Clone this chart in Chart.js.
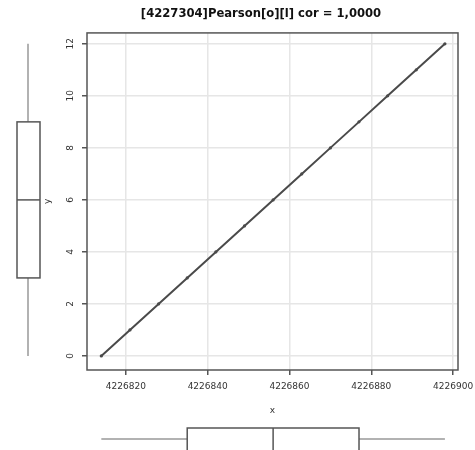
<!DOCTYPE html>
<html>
<head>
<meta charset="utf-8">
<title>Pearson cor</title>
<script src="https://cdn.jsdelivr.net/npm/chart.js@4"></script>
<style>
  html, body { margin: 0; padding: 0; background: #fff; }
  #wrap { width: 475px; height: 450px; }
</style>
</head>
<body>
<div id="wrap"><canvas id="chart" width="475" height="450"></canvas></div>
<script>
/* dispersão x/y com boxplots marginais (estilo lattice) */

const TITULO = "[4227304]Pearson[o][l] cor = 1,0000";

const xVals = [4226814, 4226821, 4226828, 4226835, 4226842, 4226849, 4226856,
               4226863, 4226870, 4226877, 4226884, 4226891, 4226898];
const yVals = [0, 1, 2, 3, 4, 5, 6, 7, 8, 9, 10, 11, 12];

const xTicks = [4226820, 4226840, 4226860, 4226880, 4226900];
const yTicks = [0, 2, 4, 6, 8, 10, 12];

const FONT = "'DejaVu Sans', sans-serif";
const GRID = "#e6e6e6";
const DARK = "#555";

// cinco números de Tukey (como fivenum do R)
function fivenum(v) {
  const s = [...v].sort((a, b) => a - b);
  const n = s.length;
  const at = (p) => (s[Math.floor(p)] + s[Math.ceil(p)]) / 2;
  const n4 = Math.floor((n + 3) / 2) / 2;
  return [s[0], at(n4 - 1), at((n - 1) / 2), at(n - n4), s[n - 1]];
}

const boxX = fivenum(xVals);
const boxY = fivenum(yVals);

const margensPlugin = {
  id: "margens",
  afterDraw(chart) {
    const { ctx, chartArea: a, scales: { x, y } } = chart;
    ctx.save();

    // moldura do painel
    ctx.strokeStyle = DARK;
    ctx.lineWidth = 1.5;
    ctx.strokeRect(a.left, a.top, a.right - a.left, a.bottom - a.top);

    // boxplot vertical (y), à esquerda
    const bl = 17, br = 40, bc = 28;
    const py = boxY.map((v) => y.getPixelForValue(v));
    ctx.strokeStyle = "#999";
    ctx.beginPath();
    ctx.moveTo(bc, py[0]); ctx.lineTo(bc, py[1]);
    ctx.moveTo(bc, py[3]); ctx.lineTo(bc, py[4]);
    ctx.stroke();
    ctx.strokeStyle = DARK;
    ctx.fillStyle = "#fff";
    ctx.fillRect(bl, py[3], br - bl, py[1] - py[3]);
    ctx.strokeRect(bl, py[3], br - bl, py[1] - py[3]);
    ctx.beginPath();
    ctx.moveTo(bl, py[2]); ctx.lineTo(br, py[2]);
    ctx.stroke();

    // boxplot horizontal (x), embaixo
    const bt = 428, bb = 451, bm = 439;
    const px = boxX.map((v) => x.getPixelForValue(v));
    ctx.strokeStyle = "#999";
    ctx.beginPath();
    ctx.moveTo(px[0], bm); ctx.lineTo(px[1], bm);
    ctx.moveTo(px[3], bm); ctx.lineTo(px[4], bm);
    ctx.stroke();
    ctx.strokeStyle = DARK;
    ctx.fillRect(px[1], bt, px[3] - px[1], bb - bt);
    ctx.strokeRect(px[1], bt, px[3] - px[1], bb - bt);
    ctx.beginPath();
    ctx.moveTo(px[2], bt); ctx.lineTo(px[2], bb);
    ctx.stroke();

    ctx.restore();
  },
};

new Chart(document.getElementById("chart"), {
  type: "scatter",
  data: {
    datasets: [
      {
        label: "y",
        data: xVals.map((v, i) => ({ x: v, y: yVals[i] })),
        showLine: true,
        borderColor: "#4a4a4a",
        borderWidth: 2,
        pointRadius: 1.6,
        pointBackgroundColor: "#4a4a4a",
        pointBorderColor: "#4a4a4a",
        pointBorderWidth: 0,
      },
    ],
  },
  options: {
    responsive: false,
    animation: false,
    events: [],
    layout: { padding: { left: 64, right: 17, top: 0, bottom: 30 } },
    plugins: {
      legend: { display: false },
      tooltip: { enabled: false },
      title: {
        display: true,
        text: TITULO,
        color: "#111",
        font: { family: FONT, size: 11.6, weight: "bold" },
        padding: { top: 7, bottom: 12 },
      },
    },
    scales: {
      x: {
        type: "linear",
        min: 4226810.5,
        max: 4226901.2,
        afterBuildTicks: (s) => { s.ticks = xTicks.map((v) => ({ value: v })); },
        afterFit: (s) => { s.height = 50; s.paddingLeft = 0; s.paddingRight = 0; },
        ticks: {
          color: "#333",
          font: { family: FONT, size: 9 },
          padding: 6.6,
          maxRotation: 0,
          callback: (v) => String(v),
        },
        grid: { color: GRID, lineWidth: 1.5, tickLength: 5, tickColor: DARK, tickWidth: 1.5 },
        border: { display: false },
        title: {
          display: true,
          text: "x",
          color: "#333",
          font: { family: FONT, size: 9 },
          padding: { top: 0, bottom: 3.6 },
        },
      },
      y: {
        type: "linear",
        min: -0.54,
        max: 12.42,
        afterBuildTicks: (s) => { s.ticks = yTicks.map((v) => ({ value: v })); },
        afterFit: (s) => { s.width = 23; s.paddingTop = 0; s.paddingBottom = 0; },
        ticks: {
          color: "#333",
          font: { family: FONT, size: 9 },
          padding: 5.5,
          minRotation: 90,
          maxRotation: 90,
          crossAlign: "center",
          callback: (v) => String(v),
        },
        grid: { color: GRID, lineWidth: 1.5, tickLength: 5, tickColor: DARK, tickWidth: 1.5 },
        border: { display: false },
        title: {
          display: true,
          text: "y",
          color: "#333",
          font: { family: FONT, size: 9 },
          padding: { top: -21.4, bottom: 0 },
        },
      },
    },
  },
  plugins: [margensPlugin],
});
</script>
</body>
</html>
